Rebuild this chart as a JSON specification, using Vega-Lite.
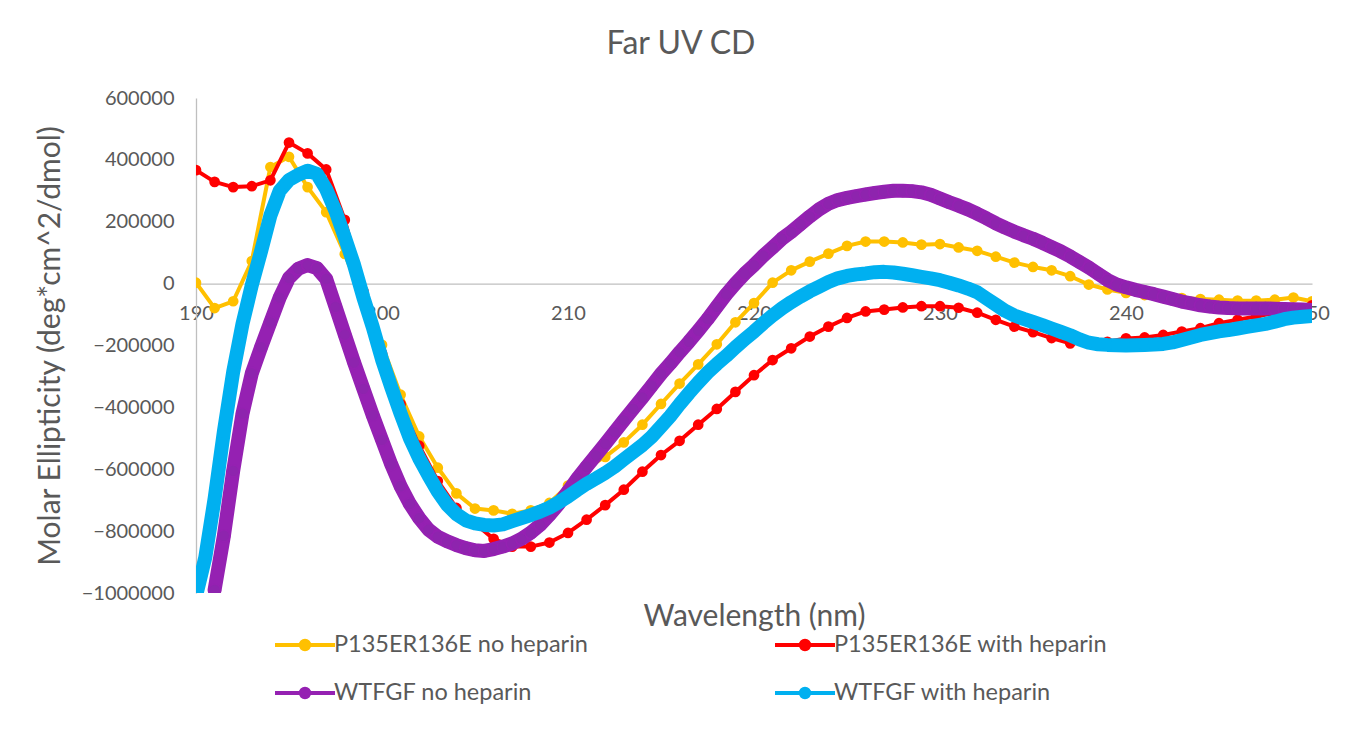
{
  "$schema": "https://vega.github.io/schema/vega-lite/v6.json",
  "width": 1116,
  "height": 495,
  "autosize": {"type": "none"},
  "padding": {"left": 196, "top": 98, "right": 49, "bottom": 142},
  "background": "white",
  "title": {"text": "Far UV CD", "font": "Lato", "fontSize": 32, "fontWeight": "normal", "color": "#595959", "offset": 27, "dx": -73},
  "datasets": {
    "cd": [
      {"s": "P135ER136E no heparin", "w": 190, "e": 3000},
      {"s": "P135ER136E no heparin", "w": 191, "e": -79000},
      {"s": "P135ER136E no heparin", "w": 192, "e": -57000},
      {"s": "P135ER136E no heparin", "w": 193, "e": 73000},
      {"s": "P135ER136E no heparin", "w": 194, "e": 377000},
      {"s": "P135ER136E no heparin", "w": 195, "e": 410000},
      {"s": "P135ER136E no heparin", "w": 196, "e": 312000},
      {"s": "P135ER136E no heparin", "w": 197, "e": 231000},
      {"s": "P135ER136E no heparin", "w": 198, "e": 96000},
      {"s": "P135ER136E no heparin", "w": 199, "e": -55000},
      {"s": "P135ER136E no heparin", "w": 200, "e": -198000},
      {"s": "P135ER136E no heparin", "w": 201, "e": -359000},
      {"s": "P135ER136E no heparin", "w": 202, "e": -494000},
      {"s": "P135ER136E no heparin", "w": 203, "e": -595000},
      {"s": "P135ER136E no heparin", "w": 204, "e": -678000},
      {"s": "P135ER136E no heparin", "w": 205, "e": -727000},
      {"s": "P135ER136E no heparin", "w": 206, "e": -733000},
      {"s": "P135ER136E no heparin", "w": 207, "e": -744000},
      {"s": "P135ER136E no heparin", "w": 208, "e": -733000},
      {"s": "P135ER136E no heparin", "w": 209, "e": -709000},
      {"s": "P135ER136E no heparin", "w": 210, "e": -653000},
      {"s": "P135ER136E no heparin", "w": 211, "e": -595000},
      {"s": "P135ER136E no heparin", "w": 212, "e": -560000},
      {"s": "P135ER136E no heparin", "w": 213, "e": -513000},
      {"s": "P135ER136E no heparin", "w": 214, "e": -456000},
      {"s": "P135ER136E no heparin", "w": 215, "e": -389000},
      {"s": "P135ER136E no heparin", "w": 216, "e": -323000},
      {"s": "P135ER136E no heparin", "w": 217, "e": -261000},
      {"s": "P135ER136E no heparin", "w": 218, "e": -196000},
      {"s": "P135ER136E no heparin", "w": 219, "e": -125000},
      {"s": "P135ER136E no heparin", "w": 220, "e": -63000},
      {"s": "P135ER136E no heparin", "w": 221, "e": 3000},
      {"s": "P135ER136E no heparin", "w": 222, "e": 43000},
      {"s": "P135ER136E no heparin", "w": 223, "e": 71000},
      {"s": "P135ER136E no heparin", "w": 224, "e": 97000},
      {"s": "P135ER136E no heparin", "w": 225, "e": 122000},
      {"s": "P135ER136E no heparin", "w": 226, "e": 136000},
      {"s": "P135ER136E no heparin", "w": 227, "e": 136000},
      {"s": "P135ER136E no heparin", "w": 228, "e": 133000},
      {"s": "P135ER136E no heparin", "w": 229, "e": 126000},
      {"s": "P135ER136E no heparin", "w": 230, "e": 128000},
      {"s": "P135ER136E no heparin", "w": 231, "e": 117000},
      {"s": "P135ER136E no heparin", "w": 232, "e": 106000},
      {"s": "P135ER136E no heparin", "w": 233, "e": 87000},
      {"s": "P135ER136E no heparin", "w": 234, "e": 68000},
      {"s": "P135ER136E no heparin", "w": 235, "e": 54000},
      {"s": "P135ER136E no heparin", "w": 236, "e": 43000},
      {"s": "P135ER136E no heparin", "w": 237, "e": 24000},
      {"s": "P135ER136E no heparin", "w": 238, "e": -3000},
      {"s": "P135ER136E no heparin", "w": 239, "e": -19000},
      {"s": "P135ER136E no heparin", "w": 240, "e": -30000},
      {"s": "P135ER136E no heparin", "w": 241, "e": -37000},
      {"s": "P135ER136E no heparin", "w": 242, "e": -44000},
      {"s": "P135ER136E no heparin", "w": 243, "e": -47000},
      {"s": "P135ER136E no heparin", "w": 244, "e": -50000},
      {"s": "P135ER136E no heparin", "w": 245, "e": -52000},
      {"s": "P135ER136E no heparin", "w": 246, "e": -55000},
      {"s": "P135ER136E no heparin", "w": 247, "e": -55000},
      {"s": "P135ER136E no heparin", "w": 248, "e": -52000},
      {"s": "P135ER136E no heparin", "w": 249, "e": -45000},
      {"s": "P135ER136E no heparin", "w": 250, "e": -57000},

      {"s": "P135ER136E with heparin", "w": 190, "e": 367000},
      {"s": "P135ER136E with heparin", "w": 191, "e": 329000},
      {"s": "P135ER136E with heparin", "w": 192, "e": 312000},
      {"s": "P135ER136E with heparin", "w": 193, "e": 315000},
      {"s": "P135ER136E with heparin", "w": 194, "e": 334000},
      {"s": "P135ER136E with heparin", "w": 195, "e": 456000},
      {"s": "P135ER136E with heparin", "w": 196, "e": 421000},
      {"s": "P135ER136E with heparin", "w": 197, "e": 369000},
      {"s": "P135ER136E with heparin", "w": 198, "e": 206000},
      {"s": "P135ER136E with heparin", "w": 199, "e": -24000},
      {"s": "P135ER136E with heparin", "w": 200, "e": -225000},
      {"s": "P135ER136E with heparin", "w": 201, "e": -389000},
      {"s": "P135ER136E with heparin", "w": 202, "e": -524000},
      {"s": "P135ER136E with heparin", "w": 203, "e": -638000},
      {"s": "P135ER136E with heparin", "w": 204, "e": -725000},
      {"s": "P135ER136E with heparin", "w": 205, "e": -775000},
      {"s": "P135ER136E with heparin", "w": 206, "e": -825000},
      {"s": "P135ER136E with heparin", "w": 207, "e": -850000},
      {"s": "P135ER136E with heparin", "w": 208, "e": -850000},
      {"s": "P135ER136E with heparin", "w": 209, "e": -837000},
      {"s": "P135ER136E with heparin", "w": 210, "e": -806000},
      {"s": "P135ER136E with heparin", "w": 211, "e": -763000},
      {"s": "P135ER136E with heparin", "w": 212, "e": -716000},
      {"s": "P135ER136E with heparin", "w": 213, "e": -666000},
      {"s": "P135ER136E with heparin", "w": 214, "e": -608000},
      {"s": "P135ER136E with heparin", "w": 215, "e": -554000},
      {"s": "P135ER136E with heparin", "w": 216, "e": -508000},
      {"s": "P135ER136E with heparin", "w": 217, "e": -456000},
      {"s": "P135ER136E with heparin", "w": 218, "e": -405000},
      {"s": "P135ER136E with heparin", "w": 219, "e": -350000},
      {"s": "P135ER136E with heparin", "w": 220, "e": -296000},
      {"s": "P135ER136E with heparin", "w": 221, "e": -247000},
      {"s": "P135ER136E with heparin", "w": 222, "e": -209000},
      {"s": "P135ER136E with heparin", "w": 223, "e": -171000},
      {"s": "P135ER136E with heparin", "w": 224, "e": -139000},
      {"s": "P135ER136E with heparin", "w": 225, "e": -111000},
      {"s": "P135ER136E with heparin", "w": 226, "e": -90000},
      {"s": "P135ER136E with heparin", "w": 227, "e": -84000},
      {"s": "P135ER136E with heparin", "w": 228, "e": -77000},
      {"s": "P135ER136E with heparin", "w": 229, "e": -73000},
      {"s": "P135ER136E with heparin", "w": 230, "e": -73000},
      {"s": "P135ER136E with heparin", "w": 231, "e": -78000},
      {"s": "P135ER136E with heparin", "w": 232, "e": -94000},
      {"s": "P135ER136E with heparin", "w": 233, "e": -117000},
      {"s": "P135ER136E with heparin", "w": 234, "e": -139000},
      {"s": "P135ER136E with heparin", "w": 235, "e": -157000},
      {"s": "P135ER136E with heparin", "w": 236, "e": -176000},
      {"s": "P135ER136E with heparin", "w": 237, "e": -193000},
      {"s": "P135ER136E with heparin", "w": 238, "e": -192000},
      {"s": "P135ER136E with heparin", "w": 239, "e": -188000},
      {"s": "P135ER136E with heparin", "w": 240, "e": -177000},
      {"s": "P135ER136E with heparin", "w": 241, "e": -174000},
      {"s": "P135ER136E with heparin", "w": 242, "e": -166000},
      {"s": "P135ER136E with heparin", "w": 243, "e": -155000},
      {"s": "P135ER136E with heparin", "w": 244, "e": -144000},
      {"s": "P135ER136E with heparin", "w": 245, "e": -128000},
      {"s": "P135ER136E with heparin", "w": 246, "e": -117000},
      {"s": "P135ER136E with heparin", "w": 247, "e": -106000},
      {"s": "P135ER136E with heparin", "w": 248, "e": -95000},
      {"s": "P135ER136E with heparin", "w": 249, "e": -84000},
      {"s": "P135ER136E with heparin", "w": 250, "e": -70000},

      {"s": "WTFGF no heparin", "w": 191, "e": -990000},
      {"s": "WTFGF no heparin", "w": 191.5, "e": -815000},
      {"s": "WTFGF no heparin", "w": 192, "e": -605000},
      {"s": "WTFGF no heparin", "w": 192.5, "e": -420000},
      {"s": "WTFGF no heparin", "w": 193, "e": -290000},
      {"s": "WTFGF no heparin", "w": 193.5, "e": -205000},
      {"s": "WTFGF no heparin", "w": 194, "e": -125000},
      {"s": "WTFGF no heparin", "w": 194.5, "e": -45000},
      {"s": "WTFGF no heparin", "w": 195, "e": 18000},
      {"s": "WTFGF no heparin", "w": 195.5, "e": 48000},
      {"s": "WTFGF no heparin", "w": 196, "e": 60000},
      {"s": "WTFGF no heparin", "w": 196.5, "e": 50000},
      {"s": "WTFGF no heparin", "w": 197, "e": 15000},
      {"s": "WTFGF no heparin", "w": 197.5, "e": -75000},
      {"s": "WTFGF no heparin", "w": 198, "e": -165000},
      {"s": "WTFGF no heparin", "w": 198.5, "e": -255000},
      {"s": "WTFGF no heparin", "w": 199, "e": -340000},
      {"s": "WTFGF no heparin", "w": 199.5, "e": -425000},
      {"s": "WTFGF no heparin", "w": 200, "e": -505000},
      {"s": "WTFGF no heparin", "w": 200.5, "e": -585000},
      {"s": "WTFGF no heparin", "w": 201, "e": -655000},
      {"s": "WTFGF no heparin", "w": 201.5, "e": -712000},
      {"s": "WTFGF no heparin", "w": 202, "e": -758000},
      {"s": "WTFGF no heparin", "w": 202.5, "e": -795000},
      {"s": "WTFGF no heparin", "w": 203, "e": -818000},
      {"s": "WTFGF no heparin", "w": 203.5, "e": -833000},
      {"s": "WTFGF no heparin", "w": 204, "e": -845000},
      {"s": "WTFGF no heparin", "w": 204.5, "e": -855000},
      {"s": "WTFGF no heparin", "w": 205, "e": -862000},
      {"s": "WTFGF no heparin", "w": 205.5, "e": -864000},
      {"s": "WTFGF no heparin", "w": 206, "e": -858000},
      {"s": "WTFGF no heparin", "w": 206.5, "e": -850000},
      {"s": "WTFGF no heparin", "w": 207, "e": -840000},
      {"s": "WTFGF no heparin", "w": 207.5, "e": -825000},
      {"s": "WTFGF no heparin", "w": 208, "e": -805000},
      {"s": "WTFGF no heparin", "w": 208.5, "e": -780000},
      {"s": "WTFGF no heparin", "w": 209, "e": -748000},
      {"s": "WTFGF no heparin", "w": 209.5, "e": -712000},
      {"s": "WTFGF no heparin", "w": 210, "e": -672000},
      {"s": "WTFGF no heparin", "w": 210.5, "e": -630000},
      {"s": "WTFGF no heparin", "w": 211, "e": -592000},
      {"s": "WTFGF no heparin", "w": 211.5, "e": -555000},
      {"s": "WTFGF no heparin", "w": 212, "e": -518000},
      {"s": "WTFGF no heparin", "w": 212.5, "e": -480000},
      {"s": "WTFGF no heparin", "w": 213, "e": -442000},
      {"s": "WTFGF no heparin", "w": 213.5, "e": -405000},
      {"s": "WTFGF no heparin", "w": 214, "e": -368000},
      {"s": "WTFGF no heparin", "w": 214.5, "e": -330000},
      {"s": "WTFGF no heparin", "w": 215, "e": -292000},
      {"s": "WTFGF no heparin", "w": 215.5, "e": -258000},
      {"s": "WTFGF no heparin", "w": 216, "e": -222000},
      {"s": "WTFGF no heparin", "w": 216.5, "e": -188000},
      {"s": "WTFGF no heparin", "w": 217, "e": -152000},
      {"s": "WTFGF no heparin", "w": 217.5, "e": -115000},
      {"s": "WTFGF no heparin", "w": 218, "e": -75000},
      {"s": "WTFGF no heparin", "w": 218.5, "e": -35000},
      {"s": "WTFGF no heparin", "w": 219, "e": 0},
      {"s": "WTFGF no heparin", "w": 219.5, "e": 32000},
      {"s": "WTFGF no heparin", "w": 220, "e": 60000},
      {"s": "WTFGF no heparin", "w": 220.5, "e": 90000},
      {"s": "WTFGF no heparin", "w": 221, "e": 117000},
      {"s": "WTFGF no heparin", "w": 221.5, "e": 145000},
      {"s": "WTFGF no heparin", "w": 222, "e": 167000},
      {"s": "WTFGF no heparin", "w": 222.5, "e": 192000},
      {"s": "WTFGF no heparin", "w": 223, "e": 217000},
      {"s": "WTFGF no heparin", "w": 223.5, "e": 240000},
      {"s": "WTFGF no heparin", "w": 224, "e": 258000},
      {"s": "WTFGF no heparin", "w": 224.5, "e": 270000},
      {"s": "WTFGF no heparin", "w": 225, "e": 277000},
      {"s": "WTFGF no heparin", "w": 225.5, "e": 283000},
      {"s": "WTFGF no heparin", "w": 226, "e": 288000},
      {"s": "WTFGF no heparin", "w": 226.5, "e": 293000},
      {"s": "WTFGF no heparin", "w": 227, "e": 297000},
      {"s": "WTFGF no heparin", "w": 227.5, "e": 300000},
      {"s": "WTFGF no heparin", "w": 228, "e": 300000},
      {"s": "WTFGF no heparin", "w": 228.5, "e": 299000},
      {"s": "WTFGF no heparin", "w": 229, "e": 295000},
      {"s": "WTFGF no heparin", "w": 229.5, "e": 287000},
      {"s": "WTFGF no heparin", "w": 230, "e": 275000},
      {"s": "WTFGF no heparin", "w": 230.5, "e": 263000},
      {"s": "WTFGF no heparin", "w": 231, "e": 252000},
      {"s": "WTFGF no heparin", "w": 231.5, "e": 240000},
      {"s": "WTFGF no heparin", "w": 232, "e": 226000},
      {"s": "WTFGF no heparin", "w": 232.5, "e": 211000},
      {"s": "WTFGF no heparin", "w": 233, "e": 195000},
      {"s": "WTFGF no heparin", "w": 233.5, "e": 181000},
      {"s": "WTFGF no heparin", "w": 234, "e": 168000},
      {"s": "WTFGF no heparin", "w": 234.5, "e": 156000},
      {"s": "WTFGF no heparin", "w": 235, "e": 145000},
      {"s": "WTFGF no heparin", "w": 235.5, "e": 132000},
      {"s": "WTFGF no heparin", "w": 236, "e": 118000},
      {"s": "WTFGF no heparin", "w": 236.5, "e": 104000},
      {"s": "WTFGF no heparin", "w": 237, "e": 88000},
      {"s": "WTFGF no heparin", "w": 237.5, "e": 70000},
      {"s": "WTFGF no heparin", "w": 238, "e": 52000},
      {"s": "WTFGF no heparin", "w": 238.5, "e": 32000},
      {"s": "WTFGF no heparin", "w": 239, "e": 12000},
      {"s": "WTFGF no heparin", "w": 239.5, "e": -3000},
      {"s": "WTFGF no heparin", "w": 240, "e": -12000},
      {"s": "WTFGF no heparin", "w": 240.5, "e": -20000},
      {"s": "WTFGF no heparin", "w": 241, "e": -27000},
      {"s": "WTFGF no heparin", "w": 241.5, "e": -34000},
      {"s": "WTFGF no heparin", "w": 242, "e": -42000},
      {"s": "WTFGF no heparin", "w": 242.5, "e": -50000},
      {"s": "WTFGF no heparin", "w": 243, "e": -58000},
      {"s": "WTFGF no heparin", "w": 243.5, "e": -64000},
      {"s": "WTFGF no heparin", "w": 244, "e": -70000},
      {"s": "WTFGF no heparin", "w": 244.5, "e": -74000},
      {"s": "WTFGF no heparin", "w": 245, "e": -77000},
      {"s": "WTFGF no heparin", "w": 245.5, "e": -79000},
      {"s": "WTFGF no heparin", "w": 246, "e": -80000},
      {"s": "WTFGF no heparin", "w": 246.5, "e": -80000},
      {"s": "WTFGF no heparin", "w": 247, "e": -80000},
      {"s": "WTFGF no heparin", "w": 247.5, "e": -80000},
      {"s": "WTFGF no heparin", "w": 248, "e": -81000},
      {"s": "WTFGF no heparin", "w": 248.5, "e": -82000},
      {"s": "WTFGF no heparin", "w": 249, "e": -83000},
      {"s": "WTFGF no heparin", "w": 249.5, "e": -84000},
      {"s": "WTFGF no heparin", "w": 250, "e": -85000},

      {"s": "WTFGF with heparin", "w": 190, "e": -1010000},
      {"s": "WTFGF with heparin", "w": 190.5, "e": -885000},
      {"s": "WTFGF with heparin", "w": 191, "e": -695000},
      {"s": "WTFGF with heparin", "w": 191.5, "e": -478000},
      {"s": "WTFGF with heparin", "w": 192, "e": -285000},
      {"s": "WTFGF with heparin", "w": 192.5, "e": -130000},
      {"s": "WTFGF with heparin", "w": 193, "e": -5000},
      {"s": "WTFGF with heparin", "w": 193.5, "e": 105000},
      {"s": "WTFGF with heparin", "w": 194, "e": 220000},
      {"s": "WTFGF with heparin", "w": 194.5, "e": 300000},
      {"s": "WTFGF with heparin", "w": 195, "e": 335000},
      {"s": "WTFGF with heparin", "w": 195.5, "e": 352000},
      {"s": "WTFGF with heparin", "w": 196, "e": 365000},
      {"s": "WTFGF with heparin", "w": 196.5, "e": 355000},
      {"s": "WTFGF with heparin", "w": 197, "e": 305000},
      {"s": "WTFGF with heparin", "w": 197.5, "e": 235000},
      {"s": "WTFGF with heparin", "w": 198, "e": 150000},
      {"s": "WTFGF with heparin", "w": 198.5, "e": 60000},
      {"s": "WTFGF with heparin", "w": 199, "e": -45000},
      {"s": "WTFGF with heparin", "w": 199.5, "e": -140000},
      {"s": "WTFGF with heparin", "w": 200, "e": -245000},
      {"s": "WTFGF with heparin", "w": 200.5, "e": -335000},
      {"s": "WTFGF with heparin", "w": 201, "e": -420000},
      {"s": "WTFGF with heparin", "w": 201.5, "e": -500000},
      {"s": "WTFGF with heparin", "w": 202, "e": -565000},
      {"s": "WTFGF with heparin", "w": 202.5, "e": -620000},
      {"s": "WTFGF with heparin", "w": 203, "e": -672000},
      {"s": "WTFGF with heparin", "w": 203.5, "e": -715000},
      {"s": "WTFGF with heparin", "w": 204, "e": -745000},
      {"s": "WTFGF with heparin", "w": 204.5, "e": -765000},
      {"s": "WTFGF with heparin", "w": 205, "e": -775000},
      {"s": "WTFGF with heparin", "w": 205.5, "e": -780000},
      {"s": "WTFGF with heparin", "w": 206, "e": -782000},
      {"s": "WTFGF with heparin", "w": 206.5, "e": -778000},
      {"s": "WTFGF with heparin", "w": 207, "e": -768000},
      {"s": "WTFGF with heparin", "w": 207.5, "e": -758000},
      {"s": "WTFGF with heparin", "w": 208, "e": -748000},
      {"s": "WTFGF with heparin", "w": 208.5, "e": -737000},
      {"s": "WTFGF with heparin", "w": 209, "e": -724000},
      {"s": "WTFGF with heparin", "w": 209.5, "e": -707000},
      {"s": "WTFGF with heparin", "w": 210, "e": -688000},
      {"s": "WTFGF with heparin", "w": 210.5, "e": -667000},
      {"s": "WTFGF with heparin", "w": 211, "e": -647000},
      {"s": "WTFGF with heparin", "w": 211.5, "e": -630000},
      {"s": "WTFGF with heparin", "w": 212, "e": -612000},
      {"s": "WTFGF with heparin", "w": 212.5, "e": -592000},
      {"s": "WTFGF with heparin", "w": 213, "e": -568000},
      {"s": "WTFGF with heparin", "w": 213.5, "e": -545000},
      {"s": "WTFGF with heparin", "w": 214, "e": -522000},
      {"s": "WTFGF with heparin", "w": 214.5, "e": -495000},
      {"s": "WTFGF with heparin", "w": 215, "e": -462000},
      {"s": "WTFGF with heparin", "w": 215.5, "e": -428000},
      {"s": "WTFGF with heparin", "w": 216, "e": -390000},
      {"s": "WTFGF with heparin", "w": 216.5, "e": -354000},
      {"s": "WTFGF with heparin", "w": 217, "e": -320000},
      {"s": "WTFGF with heparin", "w": 217.5, "e": -288000},
      {"s": "WTFGF with heparin", "w": 218, "e": -260000},
      {"s": "WTFGF with heparin", "w": 218.5, "e": -234000},
      {"s": "WTFGF with heparin", "w": 219, "e": -206000},
      {"s": "WTFGF with heparin", "w": 219.5, "e": -180000},
      {"s": "WTFGF with heparin", "w": 220, "e": -155000},
      {"s": "WTFGF with heparin", "w": 220.5, "e": -128000},
      {"s": "WTFGF with heparin", "w": 221, "e": -103000},
      {"s": "WTFGF with heparin", "w": 221.5, "e": -80000},
      {"s": "WTFGF with heparin", "w": 222, "e": -60000},
      {"s": "WTFGF with heparin", "w": 222.5, "e": -42000},
      {"s": "WTFGF with heparin", "w": 223, "e": -25000},
      {"s": "WTFGF with heparin", "w": 223.5, "e": -10000},
      {"s": "WTFGF with heparin", "w": 224, "e": 5000},
      {"s": "WTFGF with heparin", "w": 224.5, "e": 17000},
      {"s": "WTFGF with heparin", "w": 225, "e": 25000},
      {"s": "WTFGF with heparin", "w": 225.5, "e": 30000},
      {"s": "WTFGF with heparin", "w": 226, "e": 33000},
      {"s": "WTFGF with heparin", "w": 226.5, "e": 37000},
      {"s": "WTFGF with heparin", "w": 227, "e": 38000},
      {"s": "WTFGF with heparin", "w": 227.5, "e": 36000},
      {"s": "WTFGF with heparin", "w": 228, "e": 32000},
      {"s": "WTFGF with heparin", "w": 228.5, "e": 27000},
      {"s": "WTFGF with heparin", "w": 229, "e": 22000},
      {"s": "WTFGF with heparin", "w": 229.5, "e": 17000},
      {"s": "WTFGF with heparin", "w": 230, "e": 11000},
      {"s": "WTFGF with heparin", "w": 230.5, "e": 3000},
      {"s": "WTFGF with heparin", "w": 231, "e": -6000},
      {"s": "WTFGF with heparin", "w": 231.5, "e": -16000},
      {"s": "WTFGF with heparin", "w": 232, "e": -28000},
      {"s": "WTFGF with heparin", "w": 232.5, "e": -48000},
      {"s": "WTFGF with heparin", "w": 233, "e": -68000},
      {"s": "WTFGF with heparin", "w": 233.5, "e": -88000},
      {"s": "WTFGF with heparin", "w": 234, "e": -103000},
      {"s": "WTFGF with heparin", "w": 234.5, "e": -114000},
      {"s": "WTFGF with heparin", "w": 235, "e": -124000},
      {"s": "WTFGF with heparin", "w": 235.5, "e": -134000},
      {"s": "WTFGF with heparin", "w": 236, "e": -145000},
      {"s": "WTFGF with heparin", "w": 236.5, "e": -156000},
      {"s": "WTFGF with heparin", "w": 237, "e": -167000},
      {"s": "WTFGF with heparin", "w": 237.5, "e": -180000},
      {"s": "WTFGF with heparin", "w": 238, "e": -191000},
      {"s": "WTFGF with heparin", "w": 238.5, "e": -196000},
      {"s": "WTFGF with heparin", "w": 239, "e": -198000},
      {"s": "WTFGF with heparin", "w": 239.5, "e": -199000},
      {"s": "WTFGF with heparin", "w": 240, "e": -200000},
      {"s": "WTFGF with heparin", "w": 240.5, "e": -199000},
      {"s": "WTFGF with heparin", "w": 241, "e": -198000},
      {"s": "WTFGF with heparin", "w": 241.5, "e": -197000},
      {"s": "WTFGF with heparin", "w": 242, "e": -195000},
      {"s": "WTFGF with heparin", "w": 242.5, "e": -190000},
      {"s": "WTFGF with heparin", "w": 243, "e": -182000},
      {"s": "WTFGF with heparin", "w": 243.5, "e": -174000},
      {"s": "WTFGF with heparin", "w": 244, "e": -166000},
      {"s": "WTFGF with heparin", "w": 244.5, "e": -160000},
      {"s": "WTFGF with heparin", "w": 245, "e": -154000},
      {"s": "WTFGF with heparin", "w": 245.5, "e": -150000},
      {"s": "WTFGF with heparin", "w": 246, "e": -145000},
      {"s": "WTFGF with heparin", "w": 246.5, "e": -140000},
      {"s": "WTFGF with heparin", "w": 247, "e": -135000},
      {"s": "WTFGF with heparin", "w": 247.5, "e": -130000},
      {"s": "WTFGF with heparin", "w": 248, "e": -123000},
      {"s": "WTFGF with heparin", "w": 248.5, "e": -115000},
      {"s": "WTFGF with heparin", "w": 249, "e": -110000},
      {"s": "WTFGF with heparin", "w": 249.5, "e": -107000},
      {"s": "WTFGF with heparin", "w": 250, "e": -105000}
    ]
  },
  "data": {"name": "cd"},
  "encoding": {
    "x": {
      "field": "w",
      "type": "quantitative",
      "scale": {"domain": [190, 250], "nice": false, "zero": false},
      "axis": {
        "title": "Wavelength (nm)",
        "values": [190, 200, 210, 220, 230, 240, 250],
        "offset": {"expr": "scale('y', 0) - height"},
        "grid": false,
        "ticks": false,
        "domainColor": "#BFBFBF",
        "domainWidth": 1.3,
        "labelFont": "Lato",
        "labelFontSize": 20,
        "labelColor": "#595959",
        "labelPadding": 20,
        "labelFlush": false,
        "labelOverlap": false,
        "titleFont": "Lato",
        "titleFontSize": 30,
        "titleFontWeight": "normal",
        "titleColor": "#595959",
        "titleBaseline": "middle",
        "titleY": 333
      }
    },
    "y": {
      "field": "e",
      "type": "quantitative",
      "scale": {"domain": [-1000000, 600000], "nice": false, "zero": false},
      "axis": {
        "title": "Molar Ellipticity (deg*cm^2/dmol)",
        "values": [-1000000, -800000, -600000, -400000, -200000, 0, 200000, 400000, 600000],
        "format": "d",
        "grid": false,
        "ticks": false,
        "domainColor": "#BFBFBF",
        "domainWidth": 1.3,
        "labelFont": "Lato",
        "labelFontSize": 20,
        "labelColor": "#595959",
        "labelPadding": 22,
        "labelOverlap": false,
        "titleFont": "Lato",
        "titleFontSize": 30,
        "titleFontWeight": "normal",
        "titleColor": "#595959",
        "titleBaseline": "middle",
        "titleX": -146
      }
    }
  },
  "layer": [
    {
      "transform": [{"filter": "datum.s === 'P135ER136E no heparin'"}],
      "mark": {"type": "line", "strokeWidth": 4, "strokeJoin": "round", "clip": true},
      "encoding": {
        "color": {
          "field": "s",
          "type": "nominal",
          "scale": {
            "domain": ["P135ER136E no heparin", "WTFGF no heparin", "P135ER136E with heparin", "WTFGF with heparin"],
            "range": ["#FFC000", "#9521B2", "#FF0000", "#00B0F0"]
          },
          "legend": {
            "title": null,
            "encode": {
              "symbols": {
                "update": {
                  "fill": {"scale": "color", "field": "value"},
                  "stroke": {"scale": "color", "field": "value"},
                  "strokeWidth": {"value": 4},
                  "opacity": {"value": 1},
                  "size": {"value": 3600},
                  "shape": {"value": "M-1,0L1,0M-0.14,0A0.14,0.14,0,1,0,0.14,0A0.14,0.14,0,1,0,-0.14,0Z"}
                }
              }
            }
          }
        }
      }
    },
    {
      "transform": [{"filter": "datum.s === 'P135ER136E no heparin'"}],
      "mark": {"type": "point", "filled": true, "opacity": 1, "size": 115, "color": "#FFC000", "clip": true}
    },
    {
      "transform": [{"filter": "datum.s === 'P135ER136E with heparin'"}],
      "mark": {"type": "line", "strokeWidth": 4, "strokeJoin": "round", "clip": true},
      "encoding": {"color": {"field": "s", "type": "nominal", "legend": null}}
    },
    {
      "transform": [{"filter": "datum.s === 'P135ER136E with heparin'"}],
      "mark": {"type": "point", "filled": true, "opacity": 1, "size": 115, "color": "#FF0000", "clip": true}
    },
    {
      "transform": [{"filter": "datum.s === 'WTFGF no heparin'"}],
      "mark": {"type": "line", "strokeWidth": 14, "strokeJoin": "round", "strokeCap": "round", "clip": true},
      "encoding": {"color": {"field": "s", "type": "nominal", "legend": null}}
    },
    {
      "transform": [{"filter": "datum.s === 'WTFGF no heparin'"}],
      "mark": {"type": "point", "filled": true, "opacity": 1, "size": 140, "fill": "#8E24AE", "stroke": "#9521B2", "strokeWidth": 1.5, "clip": true}
    },
    {
      "transform": [{"filter": "datum.s === 'WTFGF with heparin'"}],
      "mark": {"type": "line", "strokeWidth": 14, "strokeJoin": "round", "strokeCap": "round", "clip": true},
      "encoding": {"color": {"field": "s", "type": "nominal", "legend": null}}
    },
    {
      "transform": [{"filter": "datum.s === 'WTFGF with heparin'"}],
      "mark": {"type": "point", "filled": true, "opacity": 1, "size": 140, "color": "#00B0F0", "clip": true}
    }
  ],
  "config": {
    "view": {"stroke": null},
    "legend": {
      "orient": "none",
      "legendX": 77,
      "legendY": 535,
      "columns": 2,
      "columnPadding": 185,
      "rowPadding": 24,
      "clipHeight": 24,
      "padding": 0,
      "labelFont": "Lato",
      "labelFontSize": 23.5,
      "labelColor": "#595959",
      "labelLimit": 600,
      "labelOffset": -3,
      "symbolSize": 3600,
      "symbolStrokeWidth": 4,
      "symbolType": "M-1,0L1,0M-0.14,0A0.14,0.14,0,1,0,0.14,0A0.14,0.14,0,1,0,-0.14,0Z"
    }
  }
}
